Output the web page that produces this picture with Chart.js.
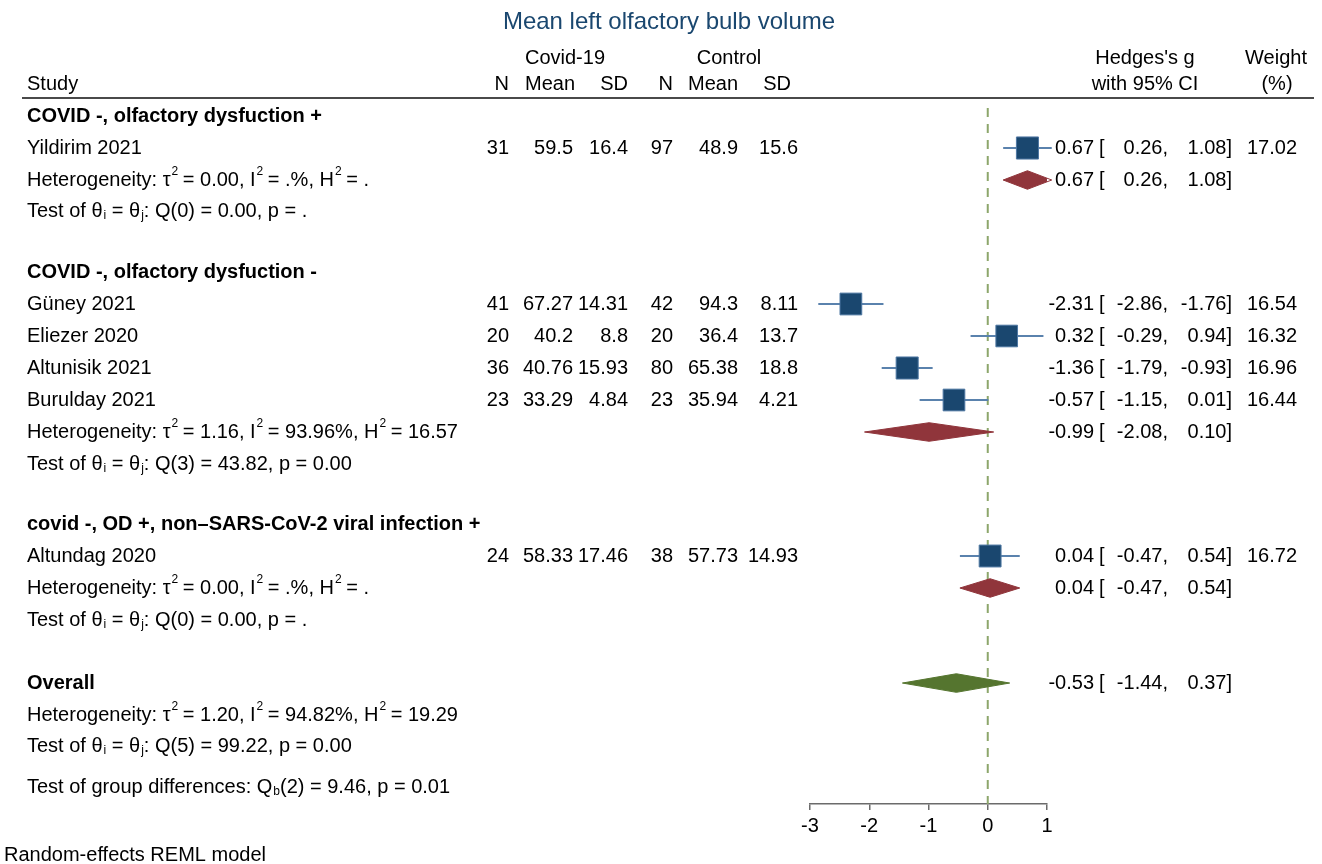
<!DOCTYPE html>
<html><head><meta charset="utf-8">
<script src="https://cdn.jsdelivr.net/npm/chart.js@4.4.1/dist/chart.umd.min.js"></script>
<style>html,body{margin:0;padding:0;background:#fff}#wrap{width:1322px;height:864px;position:relative}</style>
</head><body><div id="wrap"><canvas id="c" width="1322" height="864"></canvas></div>
<script>
// ---------------- data ----------------
const titleText = 'Mean left olfactory bulb volume';
const groupNames = ['COVID -, olfactory dysfuction +', 'COVID -, olfactory dysfuction -', 'covid -, OD +, non\u2013SARS-CoV-2 viral infection +'];
const studies = ['Yildirim 2021', 'G\u00fcney 2021', 'Eliezer 2020', 'Altunisik 2021', 'Burulday 2021', 'Altundag 2020'];
const covidN = [31, 41, 20, 36, 23, 24];
const covidMean = [59.5, 67.27, 40.2, 40.76, 33.29, 58.33];
const covidSD = [16.4, 14.31, 8.8, 15.93, 4.84, 17.46];
const ctrlN = [97, 42, 20, 80, 23, 38];
const ctrlMean = [48.9, 94.3, 36.4, 65.38, 35.94, 57.73];
const ctrlSD = [15.6, 8.11, 13.7, 18.8, 4.21, 14.93];
const hedgesG = [0.67, -2.31, 0.32, -1.36, -0.57, 0.04];
const ciLow = [0.26, -2.86, -0.29, -1.79, -1.15, -0.47];
const ciHigh = [1.08, -1.76, 0.94, -0.93, 0.01, 0.54];
const weights = [17.02, 16.54, 16.32, 16.96, 16.44, 16.72];

const groupG = [0.67, -0.99, 0.04];
const groupLow = [0.26, -2.08, -0.47];
const groupHigh = [1.08, 0.10, 0.54];
const groupTau2 = ['0.00', '1.16', '0.00'];
const groupI2 = ['.', '93.96', '.'];
const groupH2 = ['.', '16.57', '.'];
const groupQdf = [0, 3, 0];
const groupQ = ['0.00', '43.82', '0.00'];
const groupP = ['.', '0.00', '.'];

const overallG = -0.53, overallLow = -1.44, overallHigh = 0.37;
const overallTau2 = '1.20', overallI2 = '94.82', overallH2 = '19.29';
const overallQdf = 5, overallQ = '99.22', overallP = '0.00';
const diffQdf = 2, diffQ = '9.46', diffP = '0.01';

const xTicks = [-3, -2, -1, 0, 1];

// row slots (table rows, top to bottom)
const groupHeaderRows = [0, 4.875, 12.75];
const studyRows = [1, 5.875, 6.875, 7.875, 8.875, 13.75];
const groupHetRows = [2, 9.875, 14.75];
const groupTestRows = [2.97, 10.875, 15.75];
const overallRow = 17.72, overallHetRow = 18.72, overallTestRow = 19.69, groupDiffRow = 20.97;

// ---------------- style ----------------
const FAM = '"Liberation Sans", Arial, sans-serif';
const FS = 20;
function font(sz, b) { return (b ? 'bold ' : '') + sz + 'px ' + FAM; }
const SQUARE = '#1a476f', CILINE = '#5a82ad', SUBDIA = '#90353b', OVDIA = '#55752f', ZERO = '#8da66b';

function fmt2(v) { return v.toFixed(2); }

function rich(ctx, s, x, y, sz, bold) {
  const parts = s.split(/(\^.|_.)/);
  let cx = x;
  ctx.textAlign = 'left'; ctx.textBaseline = 'middle'; ctx.fillStyle = '#000';
  for (const p of parts) {
    if (!p) continue;
    if (p[0] === '^' && p.length === 2) {
      ctx.font = font(Math.round(sz * 0.58), bold);
      ctx.fillText(p[1], cx + 1, y - sz * 0.42);
      cx += ctx.measureText(p[1]).width;
    } else if (p[0] === '_' && p.length === 2) {
      ctx.font = font(Math.round(sz * 0.6), bold);
      ctx.fillText(p[1], cx + 1, y + sz * 0.22);
      cx += ctx.measureText(p[1]).width + 1;
    } else {
      ctx.font = font(sz, bold);
      ctx.fillText(p, cx, y);
      cx += ctx.measureText(p).width;
    }
  }
}
function txt(ctx, s, x, y, align, sz, bold, color) {
  ctx.font = font(sz || FS, bold);
  ctx.textAlign = align; ctx.textBaseline = 'middle';
  ctx.fillStyle = color || '#000';
  ctx.fillText(s, x, y);
}
function hetStr(t, i, h) { return 'Heterogeneity: \u03c4^2 = ' + t + ', I^2 = ' + i + '%, H^2 = ' + h; }
function testStr(df, q, p) { return 'Test of \u03b8_i = \u03b8_j: Q(' + df + ') = ' + q + ', p = ' + p; }
function ciText(ctx, y, est, l, h, w) {
  txt(ctx, fmt2(est), 1094, y, 'right');
  txt(ctx, '[', 1099, y, 'left');
  txt(ctx, fmt2(l) + ',', 1168, y, 'right');
  txt(ctx, fmt2(h) + ']', 1232, y, 'right');
  if (w !== undefined) txt(ctx, fmt2(w), 1297, y, 'right');
}

const tablePlugin = {
  id: 'tableText',
  afterDraw(chart) {
    const ctx = chart.ctx, ys = chart.scales.y;
    const py = v => ys.getPixelForValue(v);
    ctx.save();
    // title
    txt(ctx, titleText, 669, 22, 'center', 24, false, '#1a476f');
    // headers
    txt(ctx, 'Covid-19', 565, 58, 'center');
    txt(ctx, 'Control', 729, 58, 'center');
    txt(ctx, "Hedges's g", 1145, 58, 'center');
    txt(ctx, 'Weight', 1276, 58, 'center');
    txt(ctx, 'Study', 27, 84, 'left');
    txt(ctx, 'N', 509, 84, 'right');
    txt(ctx, 'Mean', 575, 84, 'right');
    txt(ctx, 'SD', 628, 84, 'right');
    txt(ctx, 'N', 673, 84, 'right');
    txt(ctx, 'Mean', 738, 84, 'right');
    txt(ctx, 'SD', 791, 84, 'right');
    txt(ctx, 'with 95% CI', 1145, 84, 'center');
    txt(ctx, '(%)', 1277, 84, 'center');
    ctx.strokeStyle = '#4a4a4a'; ctx.lineWidth = 2;
    ctx.beginPath(); ctx.moveTo(22, 98); ctx.lineTo(1314, 98); ctx.stroke();

    groupNames.forEach((g, k) => {
      txt(ctx, g, 27, py(groupHeaderRows[k]), 'left', FS, true);
      rich(ctx, hetStr(groupTau2[k], groupI2[k], groupH2[k]), 27, py(groupHetRows[k]), FS, false);
      rich(ctx, testStr(groupQdf[k], groupQ[k], groupP[k]), 27, py(groupTestRows[k]), FS, false);
      ciText(ctx, py(groupHetRows[k]), groupG[k], groupLow[k], groupHigh[k]);
    });
    studies.forEach((s, i) => {
      const y = py(studyRows[i]);
      txt(ctx, s, 27, y, 'left');
      txt(ctx, String(covidN[i]), 509, y, 'right');
      txt(ctx, String(covidMean[i]), 573, y, 'right');
      txt(ctx, String(covidSD[i]), 628, y, 'right');
      txt(ctx, String(ctrlN[i]), 673, y, 'right');
      txt(ctx, String(ctrlMean[i]), 738, y, 'right');
      txt(ctx, String(ctrlSD[i]), 798, y, 'right');
      ciText(ctx, y, hedgesG[i], ciLow[i], ciHigh[i], weights[i]);
    });
    txt(ctx, 'Overall', 27, py(overallRow), 'left', FS, true);
    ciText(ctx, py(overallRow), overallG, overallLow, overallHigh);
    rich(ctx, hetStr(overallTau2, overallI2, overallH2), 27, py(overallHetRow), FS, false);
    rich(ctx, testStr(overallQdf, overallQ, overallP), 27, py(overallTestRow), FS, false);
    rich(ctx, 'Test of group differences: Q_b(' + diffQdf + ') = ' + diffQ + ', p = ' + diffP, 27, py(groupDiffRow), FS, false);
    txt(ctx, 'Random-effects REML model', 4, 855, 'left');
    ctx.restore();
  }
};

// ---------------- datasets ----------------
const datasets = [];
datasets.push({ type: 'line', data: [{ x: 0, y: -0.25 }, { x: 0, y: 21.5 }], borderColor: ZERO, borderWidth: 2, borderDash: [9, 7], pointRadius: 0, fill: false, order: 10, clip: false });
studies.forEach((s, i) => {
  datasets.push({ type: 'line', data: [{ x: ciLow[i], y: studyRows[i] }, { x: ciHigh[i], y: studyRows[i] }], borderColor: CILINE, borderWidth: 2, pointRadius: 0, fill: false, order: 5, clip: false });
});
datasets.push({ type: 'scatter', data: hedgesG.map((v, i) => ({ x: v, y: studyRows[i] })), pointStyle: 'rect', pointRadius: weights.map(w => 15.6 * Math.sqrt(w / 17)), backgroundColor: SQUARE, borderColor: '#4f78a3', borderWidth: 1, order: 1, clip: false });
function diamond(est, l, h, row, color) {
  return { type: 'line', data: [{ x: l, y: row }, { x: est, y: row - 0.29 }, { x: h, y: row }, { x: est, y: row + 0.29 }, { x: l, y: row }], borderColor: color, backgroundColor: color, borderWidth: 1, pointRadius: 0, fill: 'shape', tension: 0, order: 1, clip: false };
}
groupNames.forEach((g, k) => datasets.push(diamond(groupG[k], groupLow[k], groupHigh[k], groupHetRows[k], SUBDIA)));
datasets.push(diamond(overallG, overallLow, overallHigh, overallRow, OVDIA));

new Chart(document.getElementById('c'), {
  type: 'scatter',
  data: { datasets },
  options: {
    responsive: false, animation: false, events: [],
    layout: { padding: { left: 810, right: 275, top: 100, bottom: 20 } },
    plugins: { legend: { display: false }, tooltip: { enabled: false } },
    scales: {
      x: {
        type: 'linear', min: -3, max: 1,
        afterBuildTicks: s => { s.ticks = xTicks.map(v => ({ value: v })); },
        afterFit: s => { s.height = 40; },
        ticks: { autoSkip: false, maxRotation: 0, color: '#000', font: { family: FAM, size: 20 }, padding: 4, callback: v => String(v) },
        grid: { display: true, drawOnChartArea: false, drawTicks: true, tickLength: 6, color: '#6b6b6b', lineWidth: 1.5 },
        border: { display: true, color: '#6b6b6b', width: 1.5 }
      },
      y: { type: 'linear', display: false, min: -0.5, max: 21.5, reverse: true }
    }
  },
  plugins: [tablePlugin]
});
</script>
</body></html>
